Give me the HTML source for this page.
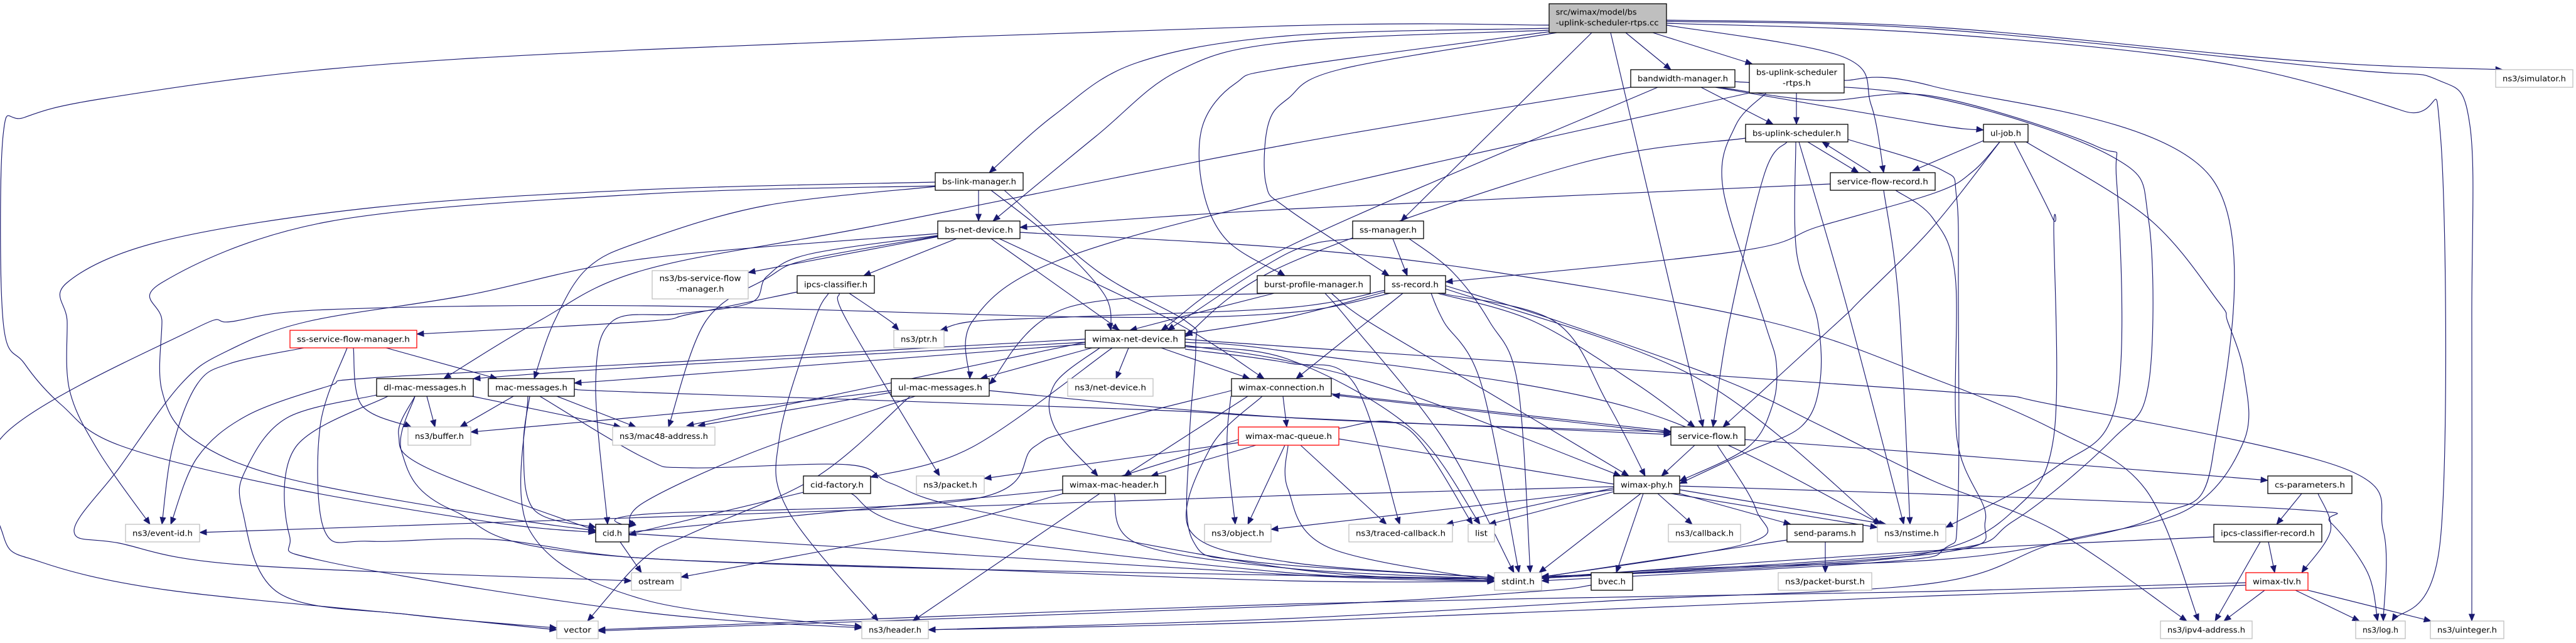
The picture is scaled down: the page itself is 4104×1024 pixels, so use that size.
<!DOCTYPE html>
<html><head><meta charset="utf-8"><style>
html,body{margin:0;padding:0;background:#fff;}
svg{display:block;}
text{font-family:"DejaVu Sans","Liberation Sans",sans-serif;font-size:12px;fill:#000;}
.e{fill:none;stroke:#191970;stroke-width:1.15;stroke-linejoin:round;marker-end:url(#a);}
.n{fill:#fff;stroke:#000;stroke-width:1.3;}
.g{fill:#fff;stroke:#bfbfbf;stroke-width:1.3;}
.r{fill:#fff;stroke:#ff0000;stroke-width:1.3;}
</style></head><body>
<svg width="4104" height="1024" viewBox="0 0 4104 1024" xmlns="http://www.w3.org/2000/svg">
<defs><marker id="a" markerUnits="userSpaceOnUse" markerWidth="14" markerHeight="12" refX="11" refY="4.5" orient="auto" overflow="visible"><path d="M0,0 L11,4.5 L0,9 z" fill="#191970" stroke="#191970" stroke-width="0.8"/></marker></defs>
<g id="edges">
<polyline class="e" points="2468,40 2052,41 1026,79 523,110 164,157 39,187 5,215 5,512 39,579 98,645 190,709 451,775 785,832 949,848"/>
<polyline class="e" points="2468,45 2052,57 1811,100 1680,183 1576,275"/>
<polyline class="e" points="2470,48 2052,67 1877,113 1746,217 1582,352"/>
<polyline class="e" points="2472,50 2052,107 1968,133 1916,200 1916,300 1955,383 2047,439"/>
<polyline class="e" points="2480,52 2137,110 2052,157 2020,200 2017,293 2052,333 2213,439"/>
<polyline class="e" points="2536,52 2232,352"/>
<polyline class="e" points="2566,52 2674,512 2713,680"/>
<polyline class="e" points="2590,52 2662,111"/>
<polyline class="e" points="2633,52 2792,102"/>
<polyline class="e" points="2655,40 2935,90 2981,167 3001,275"/>
<polyline class="e" points="2655,32 3078,43 3667,97 3987,111"/>
<polyline class="e" points="2655,34 3078,46 3732,110 3883,127 3935,200 3938,512 3938,989"/>
<polyline class="e" points="2655,37 3078,53 3536,100 3830,177 3888,215 3888,859 3811,989"/>
<polyline class="e" points="2710,139 2825,198"/>
<polyline class="e" points="2733,139 3078,198 3160,207"/>
<polyline class="e" points="2598,139 2052,230 1392,360 1026,430 857,512 707,603"/>
<polyline class="e" points="2641,139 2052,393 1850,526"/>
<polyline class="e" points="2740,139 2900,160 3078,153 3340,233 3372,287 3372,639 3274,745 3100,840"/>
<polyline class="e" points="2764,130 3078,155 3366,250 3423,350 3423,612 3366,699 3209,829 3078,879 2456,921"/>
<polyline class="e" points="2862,148 2862,198"/>
<polyline class="e" points="2787,148 2052,313 1680,417 1549,512 1545,603"/>
<polyline class="e" points="2814,148 2765,200 2745,300 2811,512 2830,579 2824,645 2785,712 2676,766"/>
<polyline class="e" points="2938,128 3078,137 3523,283 3525,729 3444,819 3274,865 3078,892 2700,905 2456,920"/>
<polyline class="e" points="2880,226 2961,275"/>
<polyline class="e" points="2781,220 2510,262 2052,420 1888,536"/>
<polyline class="e" points="2847,226 2811,277 2755,512 2729,680"/>
<polyline class="e" points="2861,226 2862,400 2896,512 2899,612 2870,679 2785,719 2676,770"/>
<polyline class="e" points="2866,226 2940,480 3033,835"/>
<polyline class="e" points="2944,222 3092,270 3117,313 3120,480 3119,812 3100,872 3000,895 2456,925"/>
<polyline class="e" points="2981,275 2903,226"/>
<polyline class="e" points="2916,293 2052,333 1625,362"/>
<polyline class="e" points="3001,303 3025,480 3043,835"/>
<polyline class="e" points="3020,303 3079,347 3115,440 3118,700 3163,829 3078,882 2456,921"/>
<polyline class="e" points="3160,224 3047,272"/>
<polyline class="e" points="3186,226 3143,273 3083,307 2900,360 2770,400 2303,449"/>
<polyline class="e" points="3186,226 3078,363 2962,480 2929,512 2745,680"/>
<polyline class="e" points="3209,226 3270,347 3272,367 3272,695 3209,812 3078,879 2800,905 2456,918"/>
<polyline class="e" points="3228,226 3422,347 3534,480 3549,512 3575,595 3575,702 3484,812 3274,865 3078,929 2600,955 2052,985 1479,1003"/>
<polyline class="e" points="2219,380 2242,439"/>
<polyline class="e" points="2245,380 2314,433 2373,512 2418,612 2438,912"/>
<polyline class="e" points="2155,380 2052,403 1860,526"/>
<polyline class="e" points="2235,467 2065,603"/>
<polyline class="e" points="2290,467 2444,512 2608,612 2700,680"/>
<polyline class="e" points="2295,467 2477,512 2560,640 2621,758"/>
<polyline class="e" points="2280,467 2300,512 2360,612 2420,912"/>
<polyline class="e" points="2303,460 2700,600 2995,835"/>
<polyline class="e" points="2303,455 2484,512 2746,605 2903,679 3078,765 3274,845 3484,989"/>
<polyline class="e" points="2215,467 2052,498 1740,505 1026,487 523,493 370,512 307,525 5,694 5,852 65,895 262,939 654,979 887,1003"/>
<polyline class="e" points="2208,462 2052,490 1700,505 1549,512 1498,526"/>
<polyline class="e" points="2206,465 2052,505 1888,532"/>
<polyline class="e" points="1559,303 1559,352"/>
<polyline class="e" points="1490,290 1026,302 600,330 262,383 107,450 107,512 111,622 157,719 239,835"/>
<polyline class="e" points="1490,296 1026,309 523,353 258,450 258,512 258,622 307,699 458,762 785,822 949,845"/>
<polyline class="e" points="1490,297 1222,327 1026,383 936,427 883,512 851,603"/>
<polyline class="e" points="1579,303 1680,383 1760,470 1770,526"/>
<polyline class="e" points="1600,303 1750,433 1890,512 1905,550 1895,700 1900,860 2000,895 2381,920"/>
<polyline class="e" points="1494,377 1192,434"/>
<polyline class="e" points="1524,380 1376,439"/>
<polyline class="e" points="1579,380 1765,512 1783,526"/>
<polyline class="e" points="1592,380 1870,512 2014,603"/>
<polyline class="e" points="1494,375 1288,405 1222,440 1196,482 1080,500 975,512 949,612 968,835"/>
<polyline class="e" points="1494,376 1288,413 1222,443 1124,512 1065,680"/>
<polyline class="e" points="1494,372 1026,412 745,470 490,512 360,560 288,612 190,745 118,845 190,865 392,900 1006,925"/>
<polyline class="e" points="1625,370 2052,395 2379,433 2816,512 3078,602 3274,685 3418,779 3503,989"/>
<polyline class="e" points="1270,465 1100,500 1026,512 664,532"/>
<polyline class="e" points="1353,467 1419,512 1432,526"/>
<polyline class="e" points="1337,467 1350,512 1497,758"/>
<polyline class="e" points="1320,467 1297,512 1242,695 1255,812 1399,989"/>
<polyline class="e" points="2030,467 1900,500 1800,526"/>
<polyline class="e" points="2025,467 1700,490 1576,612"/>
<polyline class="e" points="2121,467 2180,512 2380,630 2595,758"/>
<polyline class="e" points="2111,467 2150,512 2300,700 2412,912"/>
<polyline class="e" points="484,554 366,579 314,612 275,712 258,835"/>
<polyline class="e" points="553,554 510,679 517,845 589,862 785,859 1026,889 1500,905 2052,925 2381,926"/>
<polyline class="e" points="563,554 576,645 655,680"/>
<polyline class="e" points="615,554 792,603"/>
<polyline class="e" points="1729,540 1026,579 589,602 523,615 393,662 314,729 272,835"/>
<polyline class="e" points="1729,545 1026,584 754,603"/>
<polyline class="e" points="1729,548 1026,602 915,610"/>
<polyline class="e" points="600,629 458,665 393,745 386,812 445,945 654,979 887,1000"/>
<polyline class="e" points="618,631 471,712 461,852 523,895 1026,975 1373,1000"/>
<polyline class="e" points="661,631 635,692 680,745 949,845"/>
<polyline class="e" points="680,631 693,680"/>
<polyline class="e" points="752,631 989,680"/>
<polyline class="e" points="661,631 640,720 720,812 1026,889 2381,922"/>
<polyline class="e" points="818,631 733,680"/>
<polyline class="e" points="887,631 1013,680"/>
<polyline class="e" points="844,631 834,712 851,812 949,840"/>
<polyline class="e" points="841,631 844,845 1026,955 1373,998"/>
<polyline class="e" points="860,631 1026,729 1100,745 1350,740 1420,770 1550,812 2052,905 2381,925"/>
<polyline class="e" points="915,620 1026,625 1811,652 2052,665 2662,692"/>
<polyline class="e" points="988,863 1022,912"/>
<polyline class="e" points="1002,850 1026,851 2052,915 2381,925"/>
<polyline class="e" points="1450,631 1300,760 1100,850 1026,889 936,989"/>
<polyline class="e" points="1458,631 1200,720 1026,800 1002,840"/>
<polyline class="e" points="1420,625 1112,678"/>
<polyline class="e" points="1420,622 1202,647 750,688"/>
<polyline class="e" points="1575,622 2052,665 2662,688"/>
<polyline class="e" points="1729,545 1094,678"/>
<polyline class="e" points="1772,554 1549,712 1387,760"/>
<polyline class="e" points="1798,554 1778,603"/>
<polyline class="e" points="1850,554 1991,603"/>
<polyline class="e" points="1752,554 1680,612 1680,680 1749,758"/>
<polyline class="e" points="1740,554 1562,603"/>
<polyline class="e" points="1888,550 2052,575 2250,630 2582,758"/>
<polyline class="e" points="1888,545 2052,560 2600,650 2998,835"/>
<polyline class="e" points="1888,540 2052,552 3078,622 3274,645 3732,745 3797,845 3797,989"/>
<polyline class="e" points="1888,556 2052,578 2157,610 2230,835"/>
<polyline class="e" points="1888,552 2052,572 2248,682 2358,835"/>
<polyline class="e" points="1973,705 1568,762"/>
<polyline class="e" points="1988,631 1791,758"/>
<polyline class="e" points="2001,709 1834,758"/>
<polyline class="e" points="1752,786 1454,989"/>
<polyline class="e" points="1775,786 1811,865 2052,905 2381,922"/>
<polyline class="e" points="1693,780 1026,845 1002,852"/>
<polyline class="e" points="1961,631 1955,712 1968,835"/>
<polyline class="e" points="2047,709 1988,835"/>
<polyline class="e" points="2571,780 2052,840 2025,843"/>
<polyline class="e" points="2011,631 1929,712 1896,845 2052,895 2381,920"/>
<polyline class="e" points="2044,631 2050,680"/>
<polyline class="e" points="1962,622 1713,685 1647,712 1549,795 1026,819 1002,840"/>
<polyline class="e" points="1973,700 1680,790 1450,850 1085,919"/>
<polyline class="e" points="2072,709 2209,835"/>
<polyline class="e" points="2133,682 2242,682 2346,835"/>
<polyline class="e" points="2052,709 2052,779 2117,872 2381,925"/>
<polyline class="e" points="2133,699 2991,840"/>
<polyline class="e" points="2121,627 2662,687"/>
<polyline class="e" points="2662,690 2123,629"/>
<polyline class="e" points="2700,709 2647,758"/>
<polyline class="e" points="2736,709 2798,812 2785,865 2456,919"/>
<polyline class="e" points="2780,700 3078,722 3613,765"/>
<polyline class="e" points="2571,777 2304,835"/>
<polyline class="e" points="2571,783 2372,835"/>
<polyline class="e" points="2614,786 2452,912"/>
<polyline class="e" points="2618,786 2575,912"/>
<polyline class="e" points="2641,786 2696,835"/>
<polyline class="e" points="2676,786 2853,835"/>
<polyline class="e" points="2676,780 3005,835"/>
<polyline class="e" points="2571,775 2052,789 1026,824 318,848"/>
<polyline class="e" points="2676,774 3078,787 3667,812 3713,832 3772,912 3788,989"/>
<polyline class="e" points="2847,860 2456,919"/>
<polyline class="e" points="2908,863 2908,912"/>
<polyline class="e" points="3667,786 3627,835"/>
<polyline class="e" points="3693,786 3713,845 3667,912"/>
<polyline class="e" points="3614,863 3624,912"/>
<polyline class="e" points="3601,863 3529,989"/>
<polyline class="e" points="3527,855 3078,877 2456,920"/>
<polyline class="e" points="3608,940 3543,989"/>
<polyline class="e" points="3657,940 3759,989"/>
<polyline class="e" points="3677,940 3873,989"/>
<polyline class="e" points="3578,928 3078,942 2052,962 1026,1000 953,1003"/>
<polyline class="e" points="3578,932 3078,949 2052,990 1479,1003"/>
<polyline class="e" points="2535,932 2444,942 2052,965 1026,1002 953,1005"/>
<polyline class="e" points="1280,784 1026,845 1002,852"/>
<polyline class="e" points="1356,786 1484,845 2052,912 2381,922"/>
</g>
<g>
<rect x="2468" y="6" width="187" height="46" fill="#bfbfbf" stroke="#000" stroke-width="1.3"/>
<text x="2478.6" y="23.5" textLength="129" lengthAdjust="spacingAndGlyphs">src/wimax/model/bs</text>
<text x="2478.6" y="40.5" textLength="164" lengthAdjust="spacingAndGlyphs">-uplink-scheduler-rtps.cc</text>

<rect class="n" x="2598" y="111" width="166" height="28"/><text x="2681" y="129.5" text-anchor="middle" textLength="144" lengthAdjust="spacingAndGlyphs">bandwidth-manager.h</text>
<rect class="n" x="2787" y="102" width="151" height="46"/>
<text x="2862.5" y="119.5" text-anchor="middle" textLength="129" lengthAdjust="spacingAndGlyphs">bs-uplink-scheduler</text>
<text x="2862.5" y="136.5" text-anchor="middle" textLength="45" lengthAdjust="spacingAndGlyphs">-rtps.h</text>
<rect class="g" x="3976" y="111" width="123" height="28"/><text x="4037.5" y="129.5" text-anchor="middle" textLength="101" lengthAdjust="spacingAndGlyphs">ns3/simulator.h</text>
<rect class="n" x="2781" y="198" width="163" height="28"/><text x="2862.5" y="216.5" text-anchor="middle" textLength="141" lengthAdjust="spacingAndGlyphs">bs-uplink-scheduler.h</text>
<rect class="n" x="3160" y="198" width="71" height="28"/><text x="3195.5" y="216.5" text-anchor="middle" textLength="49" lengthAdjust="spacingAndGlyphs">ul-job.h</text>
<rect class="n" x="1490" y="275" width="140" height="28"/><text x="1560" y="293.5" text-anchor="middle" textLength="118" lengthAdjust="spacingAndGlyphs">bs-link-manager.h</text>
<rect class="n" x="2916" y="275" width="167" height="28"/><text x="2999.5" y="293.5" text-anchor="middle" textLength="145" lengthAdjust="spacingAndGlyphs">service-flow-record.h</text>
<rect class="n" x="1494" y="352" width="131" height="28"/><text x="1559.5" y="370.5" text-anchor="middle" textLength="109" lengthAdjust="spacingAndGlyphs">bs-net-device.h</text>
<rect class="n" x="2155" y="352" width="113" height="28"/><text x="2211.5" y="370.5" text-anchor="middle" textLength="91" lengthAdjust="spacingAndGlyphs">ss-manager.h</text>
<rect class="g" x="1039" y="431" width="153" height="45"/>
<text x="1115.5" y="447.5" text-anchor="middle" textLength="130" lengthAdjust="spacingAndGlyphs">ns3/bs-service-flow</text>
<text x="1115.5" y="464.5" text-anchor="middle" textLength="76" lengthAdjust="spacingAndGlyphs">-manager.h</text>
<rect class="n" x="1270" y="439" width="123" height="28"/><text x="1331.5" y="457.5" text-anchor="middle" textLength="101" lengthAdjust="spacingAndGlyphs">ipcs-classifier.h</text>
<rect class="n" x="2003" y="439" width="180" height="28"/><text x="2093" y="457.5" text-anchor="middle" textLength="158" lengthAdjust="spacingAndGlyphs">burst-profile-manager.h</text>
<rect class="n" x="2206" y="439" width="97" height="28"/><text x="2254.5" y="457.5" text-anchor="middle" textLength="75" lengthAdjust="spacingAndGlyphs">ss-record.h</text>
<rect class="r" x="462" y="526" width="202" height="28"/><text x="563" y="544.5" text-anchor="middle" textLength="180" lengthAdjust="spacingAndGlyphs">ss-service-flow-manager.h</text>
<rect class="g" x="1424" y="526" width="80" height="28"/><text x="1464" y="544.5" text-anchor="middle" textLength="58" lengthAdjust="spacingAndGlyphs">ns3/ptr.h</text>
<rect class="n" x="1729" y="526" width="159" height="28"/><text x="1808.5" y="544.5" text-anchor="middle" textLength="137" lengthAdjust="spacingAndGlyphs">wimax-net-device.h</text>
<rect class="n" x="600" y="603" width="154" height="28"/><text x="677" y="621.5" text-anchor="middle" textLength="132" lengthAdjust="spacingAndGlyphs">dl-mac-messages.h</text>
<rect class="n" x="778" y="603" width="137" height="28"/><text x="846.5" y="621.5" text-anchor="middle" textLength="115" lengthAdjust="spacingAndGlyphs">mac-messages.h</text>
<rect class="n" x="1420" y="603" width="156" height="28"/><text x="1498" y="621.5" text-anchor="middle" textLength="134" lengthAdjust="spacingAndGlyphs">ul-mac-messages.h</text>
<rect class="g" x="1701" y="603" width="136" height="28"/><text x="1769" y="621.5" text-anchor="middle" textLength="114" lengthAdjust="spacingAndGlyphs">ns3/net-device.h</text>
<rect class="n" x="1962" y="603" width="159" height="28"/><text x="2041.5" y="621.5" text-anchor="middle" textLength="137" lengthAdjust="spacingAndGlyphs">wimax-connection.h</text>
<rect class="g" x="650" y="680" width="100" height="29"/><text x="700" y="699" text-anchor="middle" textLength="78" lengthAdjust="spacingAndGlyphs">ns3/buffer.h</text>
<rect class="g" x="976" y="680" width="163" height="29"/><text x="1057.5" y="699" text-anchor="middle" textLength="141" lengthAdjust="spacingAndGlyphs">ns3/mac48-address.h</text>
<rect class="r" x="1973" y="680" width="160" height="29"/><text x="2053" y="699" text-anchor="middle" textLength="138" lengthAdjust="spacingAndGlyphs">wimax-mac-queue.h</text>
<rect class="n" x="2662" y="680" width="118" height="29"/><text x="2721" y="699" text-anchor="middle" textLength="96" lengthAdjust="spacingAndGlyphs">service-flow.h</text>
<rect class="n" x="1280" y="758" width="107" height="28"/><text x="1333.5" y="776.5" text-anchor="middle" textLength="85" lengthAdjust="spacingAndGlyphs">cid-factory.h</text>
<rect class="g" x="1460" y="758" width="108" height="28"/><text x="1514" y="776.5" text-anchor="middle" textLength="86" lengthAdjust="spacingAndGlyphs">ns3/packet.h</text>
<rect class="n" x="1693" y="758" width="164" height="28"/><text x="1775" y="776.5" text-anchor="middle" textLength="142" lengthAdjust="spacingAndGlyphs">wimax-mac-header.h</text>
<rect class="n" x="2571" y="758" width="105" height="28"/><text x="2623.5" y="776.5" text-anchor="middle" textLength="83" lengthAdjust="spacingAndGlyphs">wimax-phy.h</text>
<rect class="n" x="3613" y="758" width="134" height="28"/><text x="3680" y="776.5" text-anchor="middle" textLength="112" lengthAdjust="spacingAndGlyphs">cs-parameters.h</text>
<rect class="g" x="200" y="835" width="118" height="28"/><text x="259" y="853.5" text-anchor="middle" textLength="96" lengthAdjust="spacingAndGlyphs">ns3/event-id.h</text>
<rect class="n" x="949" y="835" width="53" height="28"/><text x="975.5" y="853.5" text-anchor="middle" textLength="31" lengthAdjust="spacingAndGlyphs">cid.h</text>
<rect class="g" x="1919" y="835" width="106" height="28"/><text x="1972" y="853.5" text-anchor="middle" textLength="84" lengthAdjust="spacingAndGlyphs">ns3/object.h</text>
<rect class="g" x="2149" y="835" width="165" height="28"/><text x="2231.5" y="853.5" text-anchor="middle" textLength="143" lengthAdjust="spacingAndGlyphs">ns3/traced-callback.h</text>
<rect class="g" x="2339" y="835" width="42" height="28"/><text x="2360" y="853.5" text-anchor="middle" textLength="20" lengthAdjust="spacingAndGlyphs">list</text>
<rect class="g" x="2658" y="835" width="115" height="28"/><text x="2715.5" y="853.5" text-anchor="middle" textLength="93" lengthAdjust="spacingAndGlyphs">ns3/callback.h</text>
<rect class="n" x="2847" y="835" width="121" height="28"/><text x="2907.5" y="853.5" text-anchor="middle" textLength="99" lengthAdjust="spacingAndGlyphs">send-params.h</text>
<rect class="g" x="2991" y="835" width="109" height="28"/><text x="3045.5" y="853.5" text-anchor="middle" textLength="87" lengthAdjust="spacingAndGlyphs">ns3/nstime.h</text>
<rect class="n" x="3527" y="835" width="172" height="28"/><text x="3613" y="853.5" text-anchor="middle" textLength="150" lengthAdjust="spacingAndGlyphs">ipcs-classifier-record.h</text>
<rect class="g" x="1006" y="912" width="79" height="28"/><text x="1045.5" y="930.5" text-anchor="middle" textLength="57" lengthAdjust="spacingAndGlyphs">ostream</text>
<rect class="g" x="2381" y="912" width="75" height="28"/><text x="2418.5" y="930.5" text-anchor="middle" textLength="53" lengthAdjust="spacingAndGlyphs">stdint.h</text>
<rect class="n" x="2535" y="912" width="66" height="28"/><text x="2568" y="930.5" text-anchor="middle" textLength="44" lengthAdjust="spacingAndGlyphs">bvec.h</text>
<rect class="g" x="2833" y="912" width="149" height="28"/><text x="2907.5" y="930.5" text-anchor="middle" textLength="127" lengthAdjust="spacingAndGlyphs">ns3/packet-burst.h</text>
<rect class="r" x="3578" y="912" width="99" height="28"/><text x="3627.5" y="930.5" text-anchor="middle" textLength="77" lengthAdjust="spacingAndGlyphs">wimax-tlv.h</text>
<rect class="g" x="887" y="989" width="66" height="28"/><text x="920" y="1007.5" text-anchor="middle" textLength="44" lengthAdjust="spacingAndGlyphs">vector</text>
<rect class="g" x="1373" y="989" width="106" height="28"/><text x="1426" y="1007.5" text-anchor="middle" textLength="84" lengthAdjust="spacingAndGlyphs">ns3/header.h</text>
<rect class="g" x="3442" y="989" width="146" height="28"/><text x="3515" y="1007.5" text-anchor="middle" textLength="124" lengthAdjust="spacingAndGlyphs">ns3/ipv4-address.h</text>
<rect class="g" x="3753" y="989" width="79" height="28"/><text x="3792.5" y="1007.5" text-anchor="middle" textLength="57" lengthAdjust="spacingAndGlyphs">ns3/log.h</text>
<rect class="g" x="3872" y="989" width="117" height="28"/><text x="3930.5" y="1007.5" text-anchor="middle" textLength="95" lengthAdjust="spacingAndGlyphs">ns3/uinteger.h</text>
</g>
</svg>
<script>
(function(){
  var NS='http://www.w3.org/2000/svg';
  var list=document.querySelectorAll('#edges polyline');
  for(var k=0;k<list.length;k++){
    var pl=list[k];
    var raw=pl.getAttribute('points').trim().split(/\s+/);
    var pts=[];
    for(var j=0;j<raw.length;j++){var a=raw[j].split(',');pts.push([+a[0],+a[1]]);}
    if(pts.length<3) continue;
    var d='M'+pts[0][0]+','+pts[0][1];
    for(var i=0;i<pts.length-1;i++){
      var p0=pts[i-1]||pts[i],p1=pts[i],p2=pts[i+1],p3=pts[i+2]||pts[i+1];
      var c1x=p1[0]+(p2[0]-p0[0])/6,c1y=p1[1]+(p2[1]-p0[1])/6;
      var c2x=p2[0]-(p3[0]-p1[0])/6,c2y=p2[1]-(p3[1]-p1[1])/6;
      d+=' C'+c1x.toFixed(1)+','+c1y.toFixed(1)+' '+c2x.toFixed(1)+','+c2y.toFixed(1)+' '+p2[0]+','+p2[1];
    }
    var p=document.createElementNS(NS,'path');
    p.setAttribute('d',d);
    p.setAttribute('class','e');
    pl.parentNode.replaceChild(p,pl);
  }
})();
</script>
</body></html>
